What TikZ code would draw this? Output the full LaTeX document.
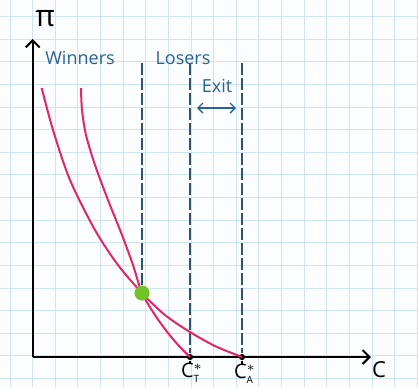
\documentclass[tikz,border=0pt]{standalone}
\usepackage{fontspec}
\setmainfont{Open Sans}
\usepackage{tikz}
\usetikzlibrary{arrows.meta,positioning,calc}
\definecolor{paper}{RGB}{251,253,255}
\definecolor{gridblue}{RGB}{208,229,244}
\definecolor{inkblue}{RGB}{38,98,150}
\definecolor{dashblue}{RGB}{45,82,115}
\definecolor{curvepink}{RGB}{226,38,104}
\definecolor{dotgreen}{RGB}{112,196,40}

\begin{document}
\begin{tikzpicture}[x=0.5pt,y=-0.5pt]
		\tikzstyle{axis}=[black,line width=1pt,-{Straight Barb[length=3.5pt,width=7pt]}]
		\tikzstyle{curve}=[curvepink,line width=1pt]
		\tikzstyle{cutline}=[dashblue,line width=0.6pt,dash pattern=on 6pt off 1.5pt]
		\tikzstyle{lbl}=[inkblue,font=\fontsize{9}{10}\selectfont,inner sep=0pt]
		\tikzstyle{cost}=[circle,fill=black,inner sep=1.1pt]
		\tikzstyle{costlbl}=[font=\fontsize{10}{12}\selectfont,inner sep=0pt]
		\fill[paper] (0,0) rectangle (418,387);
		\useasboundingbox (0,0) rectangle (418,387);
		% squared paper
		\foreach \i in {0,...,18}
			\draw[gridblue,line width=0.5pt] ({10+22.63*\i},0) -- ({10+22.63*\i},387);
		\foreach \j in {0,...,16}
			\draw[gridblue,line width=0.5pt] (0,{16.5+22.63*\j}) -- (418,{16.5+22.63*\j});
		% axes
		\coordinate (O) at (32.7,357);
		\coordinate (ytop) at (32.7,39);
		\coordinate (xend) at (371,357);
		\draw[axis] (O) -- (ytop);
		\draw[axis] (O) -- (xend);
		\node[font=\fontsize{15}{16}\selectfont] (pi) at (45,19) {π};
		\node[font=\fontsize{11}{12}\selectfont] (c) at (379,370) {C};
		% cost cut-offs
		\node[cost] (CT) at (190,357) {};
		\node[cost] (CA) at (242,357) {};
		\draw[black,line width=0.8pt] (CT) -- ++(0,7);
		\draw[black,line width=0.8pt] (CA) -- ++(0,7);
		\node[costlbl] (CTlbl) at (192,373) {C$^{*}_{\scriptscriptstyle\mathrm{T}}$};
		\node[costlbl] (CAlbl) at (245,374) {C$^{*}_{\scriptscriptstyle\mathrm{A}}$};
		\node[circle,fill=dotgreen,inner sep=2.6pt] (eq) at (142,293) {};
		\coordinate (l1) at (142,63);
		\coordinate (l2) at (190,63);
		\coordinate (l3) at (242,63);
		\draw[cutline] (l1) -- (eq);
		\draw[cutline] (l2) -- (CT);
		\draw[cutline] (l3) -- (CA);
		% profit curves
		\coordinate (aTop) at (41.7,88);
		\coordinate (bTop) at (81,88);
		\draw[curve] plot[smooth] coordinates {(aTop) (53,130) (70,180) (95,230) (118,265) (eq.center) (165,315) (190,332) (215,346) (CA.center)};
		\draw[curve] plot[smooth] coordinates {(bTop) (82,110) (86,135) (95,165) (108,200) (122,235) (133,265) (eq.center) (155,315) (168,333) (180,347) (CT.center)};
		\node[circle,fill=dotgreen,inner sep=2.6pt] at (eq) {};
		% labels
		\node[lbl] (win) at (80,58) {Winners};
		\node[lbl] (lose) at (183,58) {Losers};
		\node[lbl] (exit) at (217,86) {Exit};
		\coordinate (exL) at (197,108);
		\coordinate (exR) at (236,108);
		\draw[inkblue,line width=0.7pt,{Straight Barb[length=2.5pt,width=5pt]}-{Straight Barb[length=2.5pt,width=5pt]}] (exL) -- (exR);
	\end{tikzpicture}
\end{document}
